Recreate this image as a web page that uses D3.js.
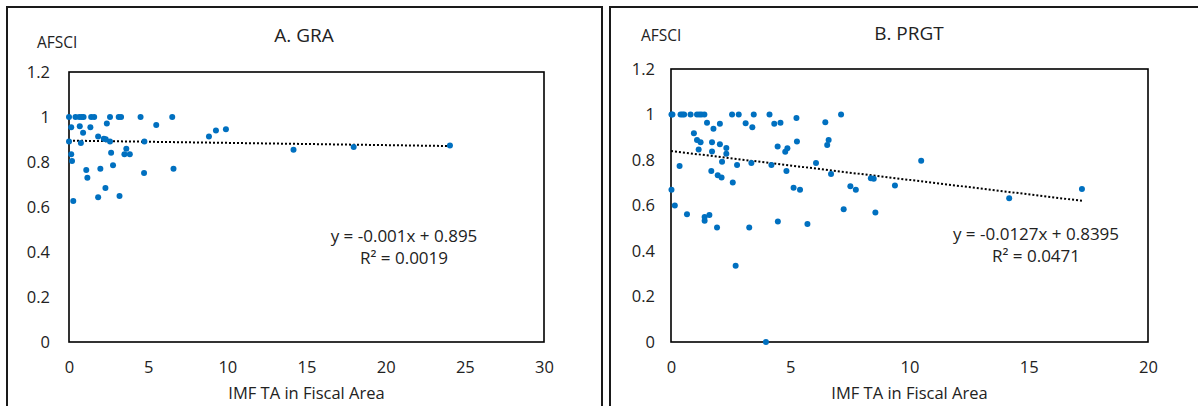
<!DOCTYPE html>
<html>
<head>
<meta charset="utf-8">
<script src="https://cdn.jsdelivr.net/npm/d3@7"></script>
<style>
  body { margin: 0; background: #fff; }
  svg text { font-family: "Open Sans", "Noto Sans", sans-serif; fill: #222; }
</style>
</head>
<body>
<svg width="1198" height="406"></svg>
<script>
// A. GRA - IMF TA in fiscal area vs AFSCI
var graX = [0, 0.41, 0.65, 0.80, 0.92, 1.40, 1.59, 2.59, 3.14, 3.29, 4.52, 6.52,
  0.14, 0.68, 1.35, 2.39, 5.51, 0.89, 1.84, 2.20, 2.32, 2.59, 0, 0.75, 4.76,
  8.84, 9.28, 9.91, 2.66, 0.14, 0.19, 3.62, 3.50, 3.84, 14.18, 17.98, 24.06,
  2.78, 1.09, 1.98, 1.16, 4.74, 6.60, 2.30, 1.84, 3.19, 0.27];
var graY = [1, 1, 1, 1, 1, 1, 1, 1, 1, 1, 1, 1,
  0.955, 0.959, 0.955, 0.971, 0.965, 0.93, 0.913, 0.903, 0.901, 0.891, 0.891, 0.884, 0.891,
  0.913, 0.94, 0.946, 0.841, 0.835, 0.805, 0.859, 0.835, 0.835, 0.854, 0.867, 0.873,
  0.786, 0.764, 0.77, 0.73, 0.751, 0.77, 0.684, 0.643, 0.649, 0.627];

// B. PRGT
var prgtX = [0.02, 0.06, 0.40, 0.48, 0.55, 0.82, 1.09, 1.19, 1.28, 1.40, 2.56, 2.84, 3.47, 4.13, 7.13,
  5.26, 1.51, 3.13, 2.05, 4.33, 4.59, 6.47, 1.78, 3.41, 0.96, 1.09, 1.24, 1.72, 2.05,
  1.16, 1.72, 2.32, 2.32, 2.14, 2.77, 3.37, 4.21, 4.47, 4.79, 4.88, 5.28, 6.55, 6.61,
  6.08, 6.71, 0.36, 1.69, 1.96, 2.12, 4.84, 2.59, 0.02, 5.14, 5.41, 7.52, 7.75, 0.16,
  7.24, 0.67, 1.41, 1.61, 1.41, 1.93, 3.28, 4.48, 5.72, 2.71, 3.98, 10.49, 8.38, 8.5,
  9.39, 8.57, 14.18, 17.23];
var prgtY = [1, 1, 1, 1, 1, 1, 1, 1, 1, 1, 1, 1, 1, 1, 1,
  0.985, 0.964, 0.962, 0.959, 0.959, 0.964, 0.966, 0.937, 0.944, 0.918, 0.888, 0.878, 0.878, 0.869,
  0.846, 0.837, 0.853, 0.827, 0.792, 0.778, 0.787, 0.778, 0.859, 0.836, 0.852, 0.881, 0.866, 0.888,
  0.787, 0.739, 0.774, 0.752, 0.733, 0.723, 0.752, 0.701, 0.669, 0.678, 0.669, 0.685, 0.669, 0.6,
  0.584, 0.562, 0.549, 0.558, 0.533, 0.503, 0.503, 0.53, 0.519, 0.335, 0, 0.797, 0.72, 0.718,
  0.688, 0.569, 0.632, 0.672];

var yTicks = [0, 0.2, 0.4, 0.6, 0.8, 1, 1.2];
var graTicks = [0, 5, 10, 15, 20, 25, 30];
var prgtTicks = [0, 5, 10, 15, 20];

var svg = d3.select("svg");

function drawPanel(p) {
  var g = svg.append("g");

  // outer panel frame (runs off the bottom of the picture)
  g.append("rect")
    .attr("x", p.frame[0]).attr("y", p.frame[1])
    .attr("width", p.frame[2]).attr("height", 440)
    .attr("fill", "none").attr("stroke", "#1a1a1a").attr("stroke-width", 2);

  var x = d3.scaleLinear().domain(d3.extent(p.xTicks)).range([p.left, p.right]),
    y = d3.scaleLinear().domain([0, 1.2]).range([p.bottom, p.top]);

  g.append("rect")
    .attr("x", p.left).attr("y", p.top)
    .attr("width", p.right - p.left).attr("height", p.bottom - p.top)
    .attr("fill", "none").attr("stroke", "#000").attr("stroke-width", 1.6);

  // y axis labels
  var yAxis = g.append("g")
    .attr("transform", "translate(" + p.yLabelX + ",0)")
    .call(d3.axisLeft(y).tickValues(yTicks).tickSize(0).tickPadding(0)
      .tickFormat(function(d) { return d3.format("~g")(d); }));
  yAxis.select(".domain").remove();
  yAxis.attr("font-size", 16.5).attr("font-family", null);

  var xAxis = g.append("g")
    .attr("transform", "translate(0,361)")
    .call(d3.axisBottom(x).tickValues(p.xTicks).tickSize(0).tickPadding(0));
  xAxis.select(".domain").remove();
  xAxis.attr("font-size", 16.5).attr("font-family", null);

  // trend line
  var x1 = d3.max(p.xs);
  g.append("line")
    .attr("x1", x(0)).attr("y1", y(p.b))
    .attr("x2", x(x1)).attr("y2", y(p.m * x1 + p.b))
    .attr("stroke", "#000").attr("stroke-width", 2)
    .attr("stroke-dasharray", "2,2");

  g.selectAll("circle")
    .data(p.xs)
    .enter().append("circle")
      .attr("cx", function(d) { return x(d); })
      .attr("cy", function(d, i) { return y(p.ys[i]); })
      .attr("r", 3)
      .attr("fill", "#0070C0");

  g.append("text")
    .attr("x", p.titleX).attr("y", p.titleY)
    .attr("text-anchor", "middle").attr("dy", "0.35em")
    .attr("font-size", 19)
    .text(p.title);

  g.append("text")
    .attr("x", p.afsciX).attr("y", p.afsciY)
    .attr("dy", "0.35em").attr("font-size", 15.5)
    .text("AFSCI");

  g.append("text")
    .attr("x", (p.left + p.right) / 2).attr("y", 393)
    .attr("text-anchor", "middle").attr("dy", "0.35em")
    .attr("font-size", 16.5)
    .text("IMF TA in Fiscal Area");

  g.append("text")
    .attr("x", p.eqX).attr("y", p.eqY)
    .attr("text-anchor", "middle").attr("dy", "0.35em")
    .attr("font-size", 17)
    .text(p.eq);

  g.append("text")
    .attr("x", p.eqX).attr("y", p.eqY + 22)
    .attr("text-anchor", "middle").attr("dy", "0.35em")
    .attr("font-size", 17)
    .text(p.r2);
}

drawPanel({
  frame: [7, 7, 595], left: 69, right: 544, top: 72, bottom: 342,
  xTicks: graTicks, xs: graX, ys: graY, m: -0.001, b: 0.895,
  yLabelX: 50, title: "A. GRA", titleX: 304, titleY: 35,
  afsciX: 37, afsciY: 43,
  eq: "y = -0.001x  + 0.895", r2: "R\u00b2 = 0.0019", eqX: 404, eqY: 236
});

drawPanel({
  frame: [610, 7, 600], left: 671, right: 1148, top: 69, bottom: 342,
  xTicks: prgtTicks, xs: prgtX, ys: prgtY, m: -0.0127, b: 0.8395,
  yLabelX: 655, title: "B. PRGT", titleX: 909, titleY: 33,
  afsciX: 641, afsciY: 36,
  eq: "y = -0.0127x  + 0.8395", r2: "R\u00b2 = 0.0471", eqX: 1036, eqY: 234
});
</script>
</body>
</html>
